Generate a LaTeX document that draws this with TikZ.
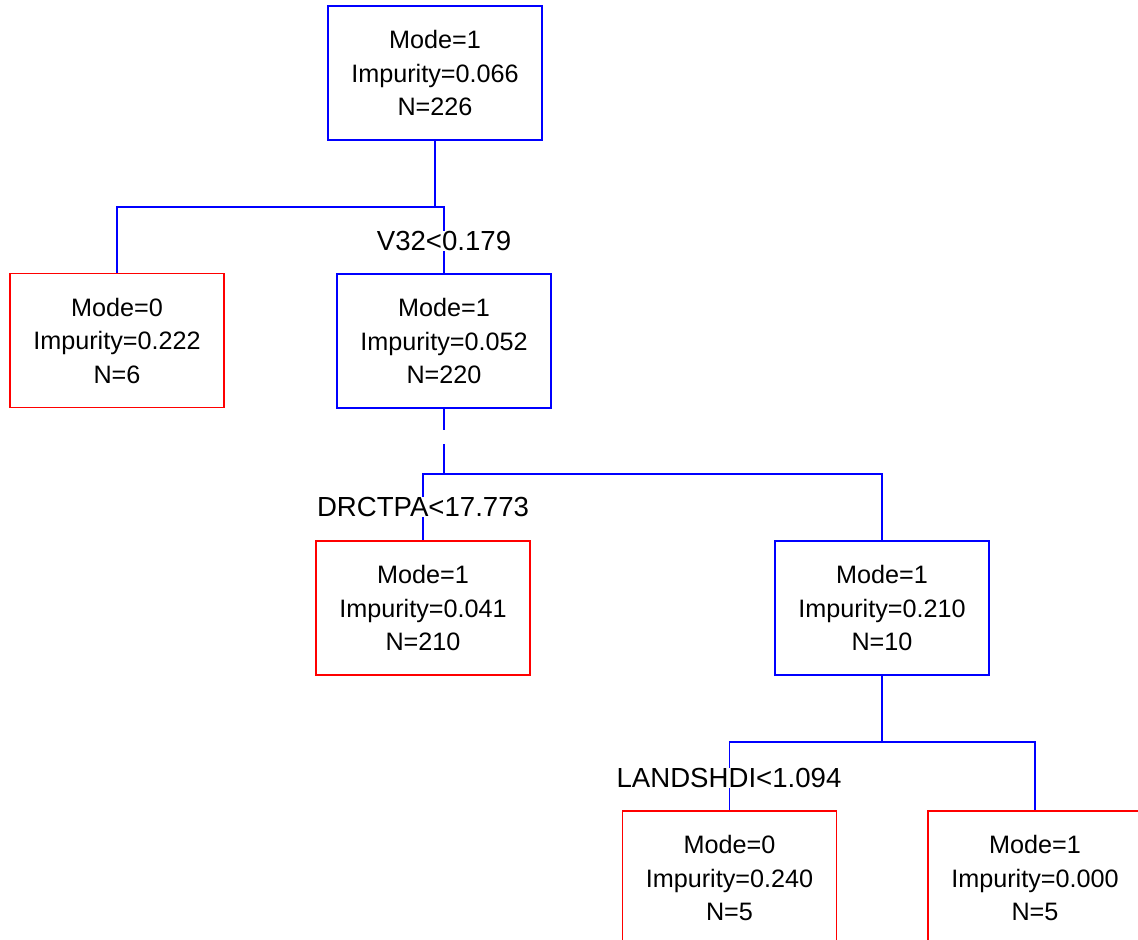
\documentclass[tikz,border=0pt]{standalone}
\usepackage{fontspec}
\setmainfont{Liberation Sans}
\begin{document}
\begin{tikzpicture}[x=0.5pt,y=-0.5pt,
  treebox/.style={draw, line width=0.8pt, minimum width=107pt, minimum height=67pt,
    align=center, inner sep=0pt, font=\fontsize{12.6}{16.75}\selectfont},
  splitbox/.style={treebox, draw=blue},
  leafbox/.style={treebox, draw=red},
  conn/.style={draw=blue, line width=0.8pt},
  cond/.style={fill=white, inner sep=0pt, font=\fontsize{13.8}{16}\selectfont}]
\useasboundingbox (0,0) rectangle (1138,940);
\clip (0,0) rectangle (1138,940);
\fill[white] (0,0) rectangle (1138,940);

\node[splitbox] (root) at (435,73) {Mode=1\\Impurity=0.066\\N=226};
\node[leafbox] (leafL) at (117,340.5) {Mode=0\\Impurity=0.222\\N=6};
\node[splitbox] (n2) at (444,341) {Mode=1\\Impurity=0.052\\N=220};
\node[leafbox] (n3) at (423,608) {Mode=1\\Impurity=0.041\\N=210};
\node[splitbox] (n4) at (882,608) {Mode=1\\Impurity=0.210\\N=10};
\node[leafbox] (n5) at (729.5,878) {Mode=0\\Impurity=0.240\\N=5};
\node[leafbox] (n6) at (1035,878) {Mode=1\\Impurity=0.000\\N=5};

\coordinate (b1) at (435,207);
\coordinate (b2) at (444,474);
\coordinate (b3) at (882,742);

\draw[conn] (root.south) -- (b1);
\draw[conn] (leafL.north) -- (leafL.north |- b1) -- (n2.north |- b1) -- (n2.north);

\draw[conn, dash pattern=on 10.5pt off 7pt on 40pt] (n2.south) -- (n2.south |- b2);
\draw[conn] (n3.north) -- (n3.north |- b2) -- (n4.north |- b2) -- (n4.north);

\draw[conn] (n4.south) -- (b3);
\draw[conn] (n5.north) -- (n5.north |- b3) -- (n6.north |- b3) -- (n6.north);

\node[cond] (c1) at (444,241) {V32<0.179};
\node[cond] (c2) at (423,507) {DRCTPA<17.773};
\node[cond] (c3) at (729,778) {LANDSHDI<1.094};
\end{tikzpicture}
\end{document}
